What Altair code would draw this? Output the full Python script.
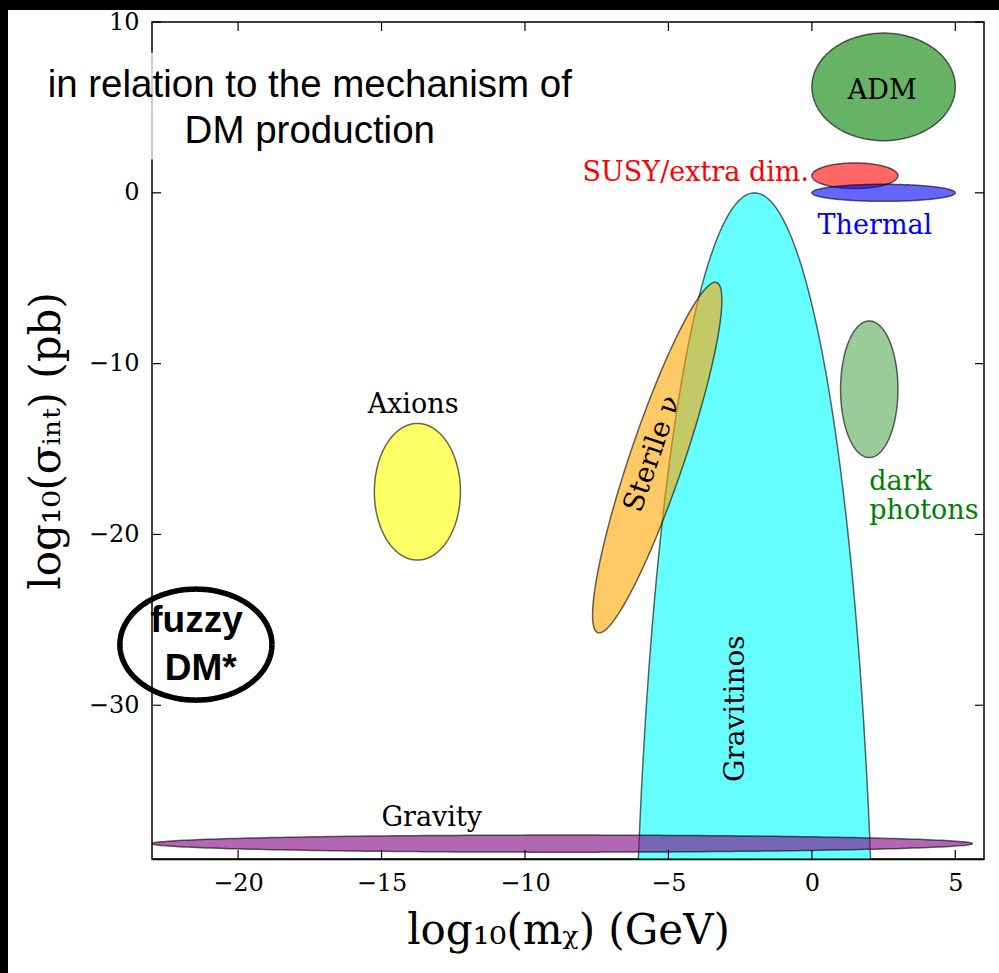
import altair as alt
import numpy as np
import pandas as pd

# ---------------- data ----------------
X_DOMAIN = [-23, 6]
Y_DOMAIN = [-39, 10]
X_TICKS = [-20, -15, -10, -5, 0, 5]
Y_TICKS = [-30, -20, -10, 0, 10]

# regions (ellipses): centre, first semi-axis vector, second semi-axis vector (data units)
REGIONS = ["Gravitinos", "Sterile", "Gravity", "Axions", "DarkPhotons", "SUSY", "Thermal", "ADM"]
CX = [-2.0, -5.39, -8.7, -13.75, 2.0, 1.5, 2.5, 2.5]
CY = [-55.0, -15.5, -38.1, -17.5, -11.5, 1.0, 0.0, 6.2]
AX = [4.23, 2.07, 14.3, 1.5, 1.0, 1.5, 2.5, 2.5]
AY = [0.0, 10.25, 0.0, 0.0, 0.0, 0.0, 0.0, 0.0]
BX = [0.0, 0.89, 0.0, 0.0, 0.0, 0.0, 0.0, 0.0]
BY = [55.0, -0.51, 0.5, 4.0, 4.0, 0.75, 0.5, 3.15]
FILLS = ["cyan", "orange", "purple", "yellow", "green", "red", "blue", "green"]
ALPHAS = [0.6, 0.6, 0.6, 0.6, 0.4, 0.6, 0.6, 0.6]

# labels
LAB_TEXT = ["ADM", "SUSY/extra dim.", "Thermal", "Axions", "Gravity", "dark", "photons"]
LAB_X = [2.45, -0.1, 0.2, -13.9, -13.25, 2.0, 2.0]
LAB_Y = [5.95, 1.15, -1.95, -12.45, -36.6, -16.95, -18.65]
LAB_COLOR = ["black", "red", "blue", "black", "black", "green", "green"]
LAB_ALIGN = ["center", "right", "left", "center", "center", "left", "left"]

ROT_TEXT = ["Gravitinos", "Sterile ν"]
ROT_X = [-2.65, -5.55]
ROT_Y = [-30.2, -15.3]
ROT_ANGLE = [270, 289]

NOTE_TEXT = ["in relation to the mechanism of", "DM production"]
NOTE_X = [-17.5, -17.5]
NOTE_Y = [6.3, 3.6]

FUZZY_TEXT = ["fuzzy", "DM*"]
FUZZY_X = [-21.45, -21.3]
FUZZY_Y = [-25.05, -27.85]
FUZZY_C = [-21.47, -26.45]
FUZZY_R = [2.65, 3.25]

W, H = 832, 837
PAD = {"left": 152, "top": 22, "right": 15, "bottom": 114}

xs = alt.Scale(domain=X_DOMAIN, nice=False, zero=False)
ys = alt.Scale(domain=Y_DOMAIN, nice=False, zero=False)

XAXIS = alt.Axis(
    values=X_TICKS, ticks=False, grid=False, domain=True, domainColor="black", domainWidth=1.5,
    zindex=1, labelFont="DejaVu Serif", labelFontSize=24, labelColor="black", labelPadding=12,
    title="log₁₀(mᵪ) (GeV)", titleFont="DejaVu Serif", titleFontSize=42, titleFontWeight="normal",
    titleColor="black", titlePadding=15, labelFlush=False,
)
YAXIS = alt.Axis(
    values=Y_TICKS, ticks=False, grid=False, domain=False,
    labelFont="DejaVu Serif", labelFontSize=24, labelColor="black", labelPadding=13,
    title="log₁₀(σᵢₙₜ) (pb)", titleFont="DejaVu Serif", titleFontSize=42, titleFontWeight="normal",
    titleColor="black", titlePadding=20, labelFlush=False,
)


def X(f):
    return alt.X(f, type="quantitative", scale=xs, axis=XAXIS)


def Y(f):
    return alt.Y(f, type="quantitative", scale=ys, axis=YAXIS)


t = np.linspace(0, 2 * np.pi, 241)


def ellipse_df(cx, cy, ax, ay, bx, by):
    return pd.DataFrame({
        "x": cx + ax * np.cos(t) + bx * np.sin(t),
        "y": cy + ay * np.cos(t) + by * np.sin(t),
        "i": np.arange(len(t)),
    })


layers = []
for k, name in enumerate(REGIONS):
    df = ellipse_df(CX[k], CY[k], AX[k], AY[k], BX[k], BY[k])
    layers.append(
        alt.Chart(df).mark_line(
            fill=FILLS[k], fillOpacity=ALPHAS[k], stroke="black",
            strokeOpacity=0.6, strokeWidth=1.5, clip=True,
        ).encode(x=X("x"), y=Y("y"), order="i:Q")
    )

# white semi-transparent box behind the note
box = alt.Chart(pd.DataFrame({"x": [-27.0], "x2": [-6.8], "y": [8.2], "y2": [1.95]})).mark_rect(
    fill="white", opacity=0.75, clip=False
).encode(x=X("x"), x2="x2:Q", y=Y("y"), y2="y2:Q")

labels_df = pd.DataFrame({"t": LAB_TEXT, "x": LAB_X, "y": LAB_Y, "c": LAB_COLOR, "a": LAB_ALIGN})
label_layers = []
for al in ["center", "left", "right"]:
    sub = labels_df[labels_df["a"] == al]
    label_layers.append(
        alt.Chart(sub).mark_text(font="DejaVu Serif", fontSize=27, align=al, baseline="middle").encode(
            x=X("x"), y=Y("y"), text="t:N", color=alt.Color("c:N", scale=None),
        )
    )

rot_layers = []
for k in range(len(ROT_TEXT)):
    rot_layers.append(
        alt.Chart(pd.DataFrame({"t": [ROT_TEXT[k]], "x": [ROT_X[k]], "y": [ROT_Y[k]]})).mark_text(
            font="DejaVu Serif", fontSize=28, angle=ROT_ANGLE[k], align="center", baseline="middle", color="black"
        ).encode(x=X("x"), y=Y("y"), text="t:N")
    )

note = alt.Chart(pd.DataFrame({"t": NOTE_TEXT, "x": NOTE_X, "y": NOTE_Y})).mark_text(
    font="Liberation Sans", fontSize=38.5, align="center", baseline="middle", color="black", clip=False
).encode(x=X("x"), y=Y("y"), text="t:N")

fz_df = ellipse_df(FUZZY_C[0], FUZZY_C[1], FUZZY_R[0], 0.0, 0.0, FUZZY_R[1])
fuzzy_ring = alt.Chart(fz_df).mark_line(stroke="black", strokeWidth=5.5, clip=False).encode(
    x=X("x"), y=Y("y"), order="i:Q"
)
fuzzy_text = alt.Chart(pd.DataFrame({"t": FUZZY_TEXT, "x": FUZZY_X, "y": FUZZY_Y})).mark_text(
    font="Liberation Sans", fontSize=37, fontWeight="bold", align="center", baseline="middle",
    color="black", clip=False
).encode(x=X("x"), y=Y("y"), text="t:N")

xt = pd.DataFrame({"v": X_TICKS})
yt = pd.DataFrame({"v": Y_TICKS})
TL = 9
tick_layers = [
    alt.Chart(xt).mark_rule(color="black", strokeWidth=1.2).encode(
        x=X("v"), y=alt.value(H), y2=alt.value(H - TL)),
    alt.Chart(xt).mark_rule(color="black", strokeWidth=1.2).encode(
        x=X("v"), y=alt.value(0), y2=alt.value(TL)),
    alt.Chart(yt).mark_rule(color="black", strokeWidth=1.2).encode(
        y=Y("v"), x=alt.value(0), x2=alt.value(TL)),
    alt.Chart(yt).mark_rule(color="black", strokeWidth=1.2).encode(
        y=Y("v"), x=alt.value(W), x2=alt.value(W - TL)),
]

# black frame of the screenshot (top and left bands)
top_band = alt.Chart(pd.DataFrame({"k": [0]})).mark_rect(color="black", clip=False).encode(
    x=alt.value(-PAD["left"]), x2=alt.value(W + PAD["right"]),
    y=alt.value(-PAD["top"]), y2=alt.value(-PAD["top"] + 10),
)
left_band = alt.Chart(pd.DataFrame({"k": [0]})).mark_rect(color="black", clip=False).encode(
    x=alt.value(-PAD["left"]), x2=alt.value(-PAD["left"] + 8),
    y=alt.value(-PAD["top"]), y2=alt.value(H + PAD["bottom"]),
)

chart = alt.layer(
    *layers, box, note, *label_layers, *rot_layers, fuzzy_ring, fuzzy_text,
    *tick_layers, top_band, left_band,
).properties(
    width=W, height=H, padding=PAD, autosize=alt.AutoSizeParams(type="none"), background="white",
).configure_view(
    stroke="black", strokeWidth=1.5
)

chart.save("out.html", embed_options={"renderer": "svg", "actions": False})
